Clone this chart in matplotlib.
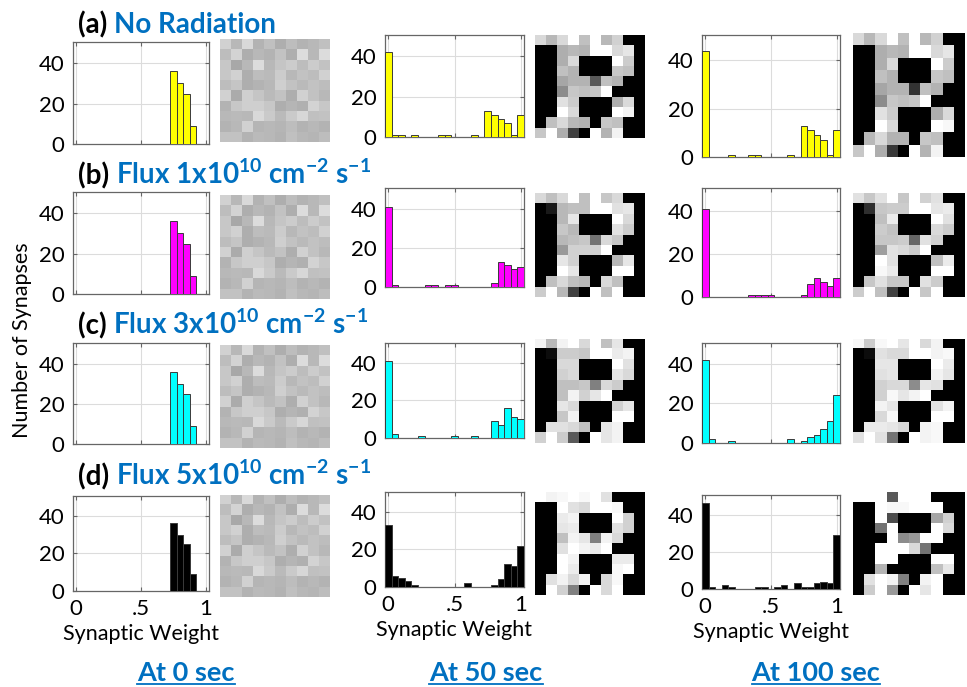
import matplotlib
matplotlib.use("Agg")
import matplotlib.pyplot as plt
import numpy as np
from matplotlib.lines import Line2D

plt.rcParams['font.family'] = ['Lato', 'DejaVu Sans']
plt.rcParams['mathtext.fontset'] = 'custom'
plt.rcParams['mathtext.rm'] = 'Lato:bold'
plt.rcParams['mathtext.default'] = 'rm'

BLUE = '#0070C0'
W, H = 967, 687

# ---------------- data ----------------
bin_centers = np.round(np.arange(21) * 0.05, 2)   # 0, .05, ..., 1

row_labels = ['(a)', '(b)', '(c)', '(d)']
row_titles = ['No Radiation',
              r'Flux 1x10$^{10}$ cm$^{-2}$ s$^{-1}$',
              r'Flux 3x10$^{10}$ cm$^{-2}$ s$^{-1}$',
              r'Flux 5x10$^{10}$ cm$^{-2}$ s$^{-1}$']
row_colors = ['#FFFF00', '#FF00FF', '#00FFFF', '#000000']
col_titles = ['At 0 sec', 'At 50 sec', 'At 100 sec']

# histogram counts, one value per bin centre
counts_0s = [0, 0, 0, 0, 0, 0, 0, 0, 0, 0, 0, 0, 0, 0, 0, 36, 30, 25, 9, 0, 0]
counts_a_50 = [42, 1, 1, 0, 1, 0, 0, 0, 1, 1, 0, 0, 0, 1, 0, 13, 11, 9, 7, 1, 11]
counts_a_100 = [44, 0, 0, 0, 1, 0, 0, 1, 1, 0, 0, 0, 0, 1, 0, 13, 11, 9, 7, 1, 11]
counts_b_50 = [41, 1, 0, 0, 0, 0, 1, 1, 0, 1, 1, 0, 0, 0, 0, 0, 2, 13, 11, 9, 10]
counts_b_100 = [41, 0, 0, 0, 0, 0, 0, 1, 1, 1, 1, 0, 0, 0, 0, 1, 6, 9, 7, 5, 9]
counts_c_50 = [41, 2, 0, 0, 0, 1, 0, 0, 0, 0, 1, 0, 0, 1, 0, 0, 9, 7, 16, 11, 10]
counts_c_100 = [42, 2, 0, 0, 1, 0, 0, 0, 0, 0, 0, 0, 0, 2, 0, 1, 3, 4, 7, 11, 24]
counts_d_50 = [33, 6, 5, 3, 1, 0, 0, 0, 0, 0, 0, 0, 2, 0, 0, 0, 1, 4, 12, 11, 22]
counts_d_100 = [46, 1, 0, 2, 1, 0, 0, 0, 1, 1, 0, 1, 2, 0, 3, 1, 1, 3, 4, 3, 29]

hist_counts = [[counts_0s, counts_a_50, counts_a_100],
               [counts_0s, counts_b_50, counts_b_100],
               [counts_0s, counts_c_50, counts_c_100],
               [counts_0s, counts_d_50, counts_d_100]]

# 10x10 synaptic weight maps (0 = black, 1 = white)
weights_0s = [
    [0.82, 0.72, 0.85, 0.70, 0.75, 0.68, 0.74, 0.70, 0.72, 0.75],
    [0.74, 0.83, 0.68, 0.72, 0.70, 0.76, 0.68, 0.86, 0.72, 0.86],
    [0.78, 0.66, 0.72, 0.86, 0.72, 0.77, 0.80, 0.74, 0.80, 0.76],
    [0.78, 0.82, 0.68, 0.74, 0.73, 0.80, 0.72, 0.76, 0.74, 0.82],
    [0.74, 0.77, 0.68, 0.70, 0.72, 0.81, 0.76, 0.73, 0.76, 0.74],
    [0.82, 0.67, 0.81, 0.77, 0.73, 0.76, 0.68, 0.82, 0.76, 0.72],
    [0.70, 0.78, 0.81, 0.81, 0.78, 0.68, 0.71, 0.69, 0.83, 0.78],
    [0.72, 0.73, 0.72, 0.85, 0.79, 0.73, 0.79, 0.84, 0.75, 0.76],
    [0.70, 0.72, 0.82, 0.71, 0.72, 0.71, 0.74, 0.70, 0.72, 0.70],
    [0.76, 0.76, 0.70, 0.73, 0.72, 0.70, 0.75, 0.72, 0.71, 0.74]]

weights_a_50 = [
    [0.85, 0.72, 0.85, 1.00, 0.75, 1.00, 0.72, 0.82, 0.00, 0.00],
    [0.00, 0.00, 0.68, 0.72, 0.70, 1.00, 1.00, 0.85, 0.90, 0.00],
    [0.00, 0.00, 0.68, 0.85, 0.00, 0.00, 0.00, 1.00, 0.80, 0.00],
    [0.00, 0.00, 0.75, 0.70, 0.00, 0.00, 0.00, 0.78, 0.75, 0.00],
    [0.00, 0.00, 0.65, 0.70, 0.70, 0.35, 0.75, 0.70, 0.00, 0.00],
    [0.00, 0.00, 0.55, 0.78, 0.75, 0.78, 1.00, 0.00, 0.00, 0.00],
    [0.00, 0.00, 0.88, 0.80, 0.00, 0.00, 0.00, 0.68, 0.85, 0.00],
    [0.00, 0.00, 1.00, 0.85, 0.00, 0.00, 0.00, 1.00, 0.95, 0.00],
    [0.00, 0.75, 0.85, 0.72, 0.70, 0.00, 0.78, 0.75, 0.00, 0.00],
    [0.78, 1.00, 0.68, 0.25, 0.00, 1.00, 0.70, 0.95, 0.00, 0.00]]

weights_a_100 = [
    [0.85, 0.72, 0.85, 1.00, 0.75, 1.00, 0.72, 0.82, 0.00, 0.00],
    [0.00, 0.00, 0.68, 0.72, 0.70, 1.00, 1.00, 0.85, 0.90, 0.00],
    [0.00, 0.00, 0.68, 0.85, 0.00, 0.00, 0.00, 1.00, 0.80, 0.00],
    [0.00, 0.00, 0.75, 0.70, 0.00, 0.00, 0.00, 0.78, 0.75, 0.00],
    [0.00, 0.00, 0.65, 0.70, 0.70, 0.20, 0.75, 0.70, 0.00, 0.00],
    [0.00, 0.00, 0.55, 0.78, 0.75, 0.78, 1.00, 0.00, 0.00, 0.00],
    [0.00, 0.00, 0.88, 0.80, 0.00, 0.00, 0.00, 0.68, 0.85, 0.00],
    [0.00, 0.00, 1.00, 0.85, 0.00, 0.00, 0.00, 1.00, 0.97, 0.00],
    [0.00, 0.72, 0.85, 0.70, 0.70, 0.00, 0.78, 0.75, 0.00, 0.00],
    [0.78, 1.00, 0.68, 0.22, 0.00, 1.00, 0.70, 0.95, 0.00, 0.00]]

weights_b_50 = [
    [0.85, 0.75, 0.85, 1.00, 0.75, 1.00, 0.78, 0.85, 0.00, 0.00],
    [0.00, 0.10, 0.72, 0.75, 0.75, 1.00, 1.00, 0.88, 0.90, 0.00],
    [0.00, 0.00, 0.72, 0.90, 0.00, 0.00, 0.00, 1.00, 0.85, 0.00],
    [0.00, 0.00, 0.78, 0.72, 0.00, 0.00, 0.00, 0.88, 0.80, 0.00],
    [0.00, 0.00, 0.72, 0.75, 0.78, 0.45, 0.85, 0.78, 0.00, 0.00],
    [0.00, 0.00, 0.60, 0.82, 0.82, 0.82, 1.00, 0.00, 0.00, 0.00],
    [0.00, 0.00, 0.90, 0.82, 0.00, 0.00, 0.00, 0.72, 0.90, 0.00],
    [0.00, 0.00, 1.00, 0.90, 0.00, 0.00, 0.00, 1.00, 1.00, 0.00],
    [0.00, 0.75, 0.85, 0.75, 0.72, 0.00, 0.85, 0.75, 0.00, 0.00],
    [0.80, 1.00, 0.72, 0.25, 0.00, 1.00, 0.75, 1.00, 0.00, 0.00]]

weights_b_100 = [
    [0.88, 0.78, 0.88, 1.00, 0.78, 1.00, 0.82, 0.88, 0.00, 0.00],
    [0.00, 0.18, 0.78, 0.80, 0.80, 1.00, 1.00, 0.90, 0.92, 0.00],
    [0.00, 0.00, 0.75, 0.92, 0.00, 0.00, 0.00, 1.00, 0.88, 0.00],
    [0.00, 0.00, 0.80, 0.76, 0.00, 0.00, 0.00, 0.85, 0.80, 0.00],
    [0.00, 0.00, 0.78, 0.78, 0.80, 0.40, 0.88, 0.82, 0.00, 0.00],
    [0.00, 0.00, 0.62, 0.88, 0.85, 0.80, 1.00, 0.00, 0.00, 0.00],
    [0.00, 0.00, 1.00, 0.88, 0.00, 0.00, 0.00, 0.75, 0.92, 0.00],
    [0.00, 0.00, 0.97, 0.92, 0.00, 0.00, 0.00, 1.00, 1.00, 0.00],
    [0.00, 0.78, 0.88, 0.78, 0.78, 0.00, 0.88, 0.80, 0.00, 0.00],
    [0.80, 1.00, 0.75, 0.25, 0.00, 1.00, 0.78, 1.00, 0.00, 0.00]]

weights_c_50 = [
    [0.95, 0.72, 0.95, 1.00, 0.85, 1.00, 0.75, 0.90, 0.00, 0.00],
    [0.00, 0.05, 0.80, 0.80, 0.78, 1.00, 1.00, 0.92, 0.95, 0.00],
    [0.00, 0.00, 0.85, 0.85, 0.00, 0.00, 0.00, 1.00, 0.88, 0.00],
    [0.00, 0.00, 0.82, 0.85, 0.00, 0.00, 0.00, 0.90, 0.85, 0.00],
    [0.00, 0.00, 0.75, 0.75, 0.78, 0.50, 0.85, 0.80, 0.00, 0.00],
    [0.00, 0.00, 0.75, 0.95, 0.82, 0.90, 1.00, 0.00, 0.00, 0.00],
    [0.00, 0.00, 0.90, 0.85, 0.00, 0.00, 0.00, 0.82, 0.90, 0.00],
    [0.00, 0.00, 0.78, 0.95, 0.00, 0.00, 0.00, 1.00, 1.00, 0.00],
    [0.00, 0.88, 0.88, 0.85, 0.75, 0.00, 0.90, 0.95, 0.00, 0.00],
    [0.82, 1.00, 0.80, 0.35, 0.00, 1.00, 0.90, 0.95, 0.00, 0.00]]

weights_c_100 = [
    [0.97, 0.80, 0.97, 1.00, 0.90, 1.00, 0.85, 0.95, 0.00, 0.00],
    [0.00, 0.05, 0.88, 0.85, 0.85, 1.00, 1.00, 0.95, 0.97, 0.00],
    [0.00, 0.00, 0.90, 0.90, 0.00, 0.00, 0.00, 1.00, 0.92, 0.00],
    [0.00, 0.00, 0.88, 0.90, 0.00, 0.00, 0.00, 0.95, 0.90, 0.00],
    [0.00, 0.00, 0.82, 0.85, 0.85, 0.55, 0.90, 0.88, 0.00, 0.00],
    [0.00, 0.00, 0.82, 0.97, 0.90, 0.95, 1.00, 0.00, 0.00, 0.00],
    [0.00, 0.00, 0.95, 0.90, 0.00, 0.00, 0.00, 0.88, 0.95, 0.00],
    [0.00, 0.00, 0.85, 0.97, 0.00, 0.00, 0.00, 1.00, 1.00, 0.00],
    [0.00, 0.92, 0.92, 0.90, 0.85, 0.00, 0.95, 0.97, 0.00, 0.00],
    [0.88, 1.00, 0.88, 0.45, 0.00, 1.00, 0.95, 0.97, 0.00, 0.00]]

weights_d_50 = [
    [1.00, 0.95, 0.97, 1.00, 0.97, 1.00, 0.88, 0.00, 0.00, 0.00],
    [0.00, 0.00, 1.00, 0.88, 0.85, 1.00, 1.00, 0.97, 0.00, 0.00],
    [0.00, 0.00, 0.92, 0.95, 0.00, 0.00, 0.00, 1.00, 0.82, 0.00],
    [0.00, 0.00, 0.90, 0.92, 0.00, 0.00, 0.00, 0.88, 0.82, 0.00],
    [0.00, 0.00, 0.75, 0.95, 0.90, 0.50, 0.95, 0.85, 0.00, 0.00],
    [0.00, 0.00, 0.88, 1.00, 0.95, 0.92, 1.00, 0.00, 0.00, 0.00],
    [0.00, 0.00, 1.00, 0.95, 0.00, 0.00, 0.00, 0.92, 0.92, 0.00],
    [0.00, 0.00, 1.00, 0.92, 0.00, 0.00, 0.00, 0.97, 1.00, 0.00],
    [0.00, 0.88, 0.95, 0.85, 0.95, 0.00, 0.85, 0.97, 0.00, 0.00],
    [0.00, 1.00, 0.82, 0.50, 0.00, 1.00, 0.85, 1.00, 0.00, 0.00]]

weights_d_100 = [
    [1.00, 1.00, 1.00, 0.35, 1.00, 1.00, 1.00, 0.00, 0.00, 0.00],
    [0.00, 0.00, 1.00, 0.97, 0.97, 1.00, 1.00, 1.00, 0.00, 0.00],
    [0.00, 0.00, 1.00, 0.30, 0.00, 0.00, 0.00, 0.65, 0.82, 0.00],
    [0.00, 0.00, 0.45, 1.00, 0.00, 0.00, 0.00, 1.00, 0.85, 0.00],
    [0.00, 0.00, 0.00, 1.00, 0.55, 0.60, 1.00, 1.00, 0.00, 0.00],
    [0.00, 0.00, 1.00, 1.00, 1.00, 0.85, 0.45, 0.00, 0.00, 0.00],
    [0.00, 0.00, 1.00, 1.00, 0.00, 0.00, 0.00, 1.00, 1.00, 0.00],
    [0.00, 0.00, 0.70, 0.00, 0.00, 0.00, 0.00, 0.75, 0.90, 0.00],
    [0.00, 0.88, 1.00, 0.95, 0.50, 0.00, 0.95, 1.00, 0.00, 0.00],
    [0.00, 0.80, 1.00, 0.60, 0.00, 1.00, 0.90, 1.00, 0.00, 0.00]]

weight_maps = [[weights_0s, weights_a_50, weights_a_100],
               [weights_0s, weights_b_50, weights_b_100],
               [weights_0s, weights_c_50, weights_c_100],
               [weights_0s, weights_d_50, weights_d_100]]

# ---------------- layout (pixels, top-left origin) ----------------
hist_x = [(73, 209), (385, 524), (702, 840)]
img_x = [(220, 330), (535, 645), (853, 965)]
hist_y = [[(42, 144), (35, 137), (35, 157)],
          [(192, 294), (188, 287), (188, 297)],
          [(343, 444), (343, 438), (343, 443)],
          [(496, 591), (492, 587), (495, 589)]]
img_y = [[(39, 142), (35, 138), (33, 157)],
         [(195, 299), (193, 297), (193, 297)],
         [(345, 448), (339, 443), (339, 443)],
         [(495, 597), (492, 595), (492, 595)]]
title_base = [33, 184, 334, 485]
col_x = [186, 486, 816]


def box(x0, y0, x1, y1):
    return [x0 / W, 1 - y1 / H, (x1 - x0) / W, (y1 - y0) / H]


fig = plt.figure(figsize=(W / 100, H / 100), dpi=100)

for r in range(4):
    for c in range(3):
        (x0, x1), (y0, y1) = hist_x[c], hist_y[r][c]
        ax = fig.add_axes(box(x0, y0, x1, y1))
        ax.bar(bin_centers, hist_counts[r][c], width=0.05,
               color=row_colors[r], edgecolor='#3a3a3a', linewidth=0.7, zorder=3)
        ax.set_xlim(-0.025, 1.025)
        ax.set_ylim(0, 50.5)
        ax.set_yticks([0, 20, 40])
        ax.set_xticks([0, 0.5, 1])
        ax.grid(True, color='#dcdcdc', linewidth=0.8, zorder=0)
        ax.tick_params(direction='in', length=3, color='#666666',
                       labelsize=16, pad=6, top=True, right=True)
        if r == 3:
            ax.set_xticklabels(['0', '.5', '1'])
            ax.set_xlabel('Synaptic Weight', fontsize=15.5, labelpad=3)
        else:
            ax.set_xticklabels([])
        for s in ax.spines.values():
            s.set_color('#666666')
            s.set_linewidth(0.9)

        (x0, x1), (y0, y1) = img_x[c], img_y[r][c]
        axi = fig.add_axes(box(x0, y0, x1, y1))
        axi.imshow(np.array(weight_maps[r][c]), cmap='gray', vmin=0, vmax=1,
                   aspect='auto', interpolation='nearest')
        axi.axis('off')

fig.text(22 / W, 1 - 340 / H, 'Number of Synapses', rotation=90, fontsize=15.5,
         ha='center', va='center')

labels = []
for r in range(4):
    labels.append(fig.text(78 / W, 1 - title_base[r] / H, row_labels[r] + ' ',
                           fontsize=20, fontweight='bold', color='black',
                           va='baseline', ha='left'))

heads = []
for c in range(3):
    heads.append(fig.text(col_x[c] / W, 1 - 681 / H, col_titles[c], fontsize=19.5,
                          fontweight='bold', color=BLUE, ha='center', va='baseline'))

fig.canvas.draw()
for r, t in enumerate(labels):
    bb = t.get_window_extent()
    fig.text(bb.x1 / W, 1 - title_base[r] / H, row_titles[r], fontsize=20,
             fontweight='bold', color=BLUE, va='baseline', ha='left')

for t in heads:
    bb = t.get_window_extent()
    yline = bb.y0 + 1
    fig.add_artist(Line2D([bb.x0 / W, bb.x1 / W], [yline / H, yline / H],
                          transform=fig.transFigure, color=BLUE, linewidth=1.3))

fig.savefig('out.png', dpi=100)
